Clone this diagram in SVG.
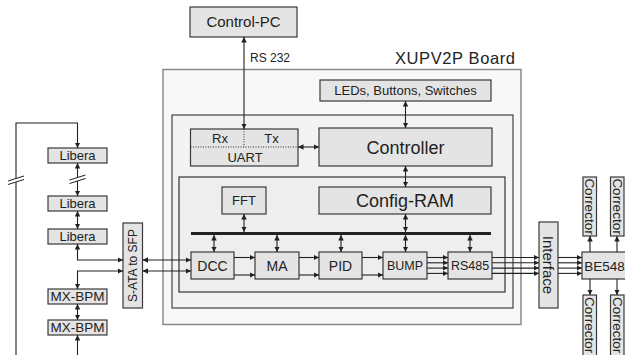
<svg xmlns="http://www.w3.org/2000/svg" width="625" height="355" viewBox="0 0 625 355">
<defs>
<marker id="ah" viewBox="0 0 6 6" refX="6" refY="3" markerWidth="5.5" markerHeight="5.5" markerUnits="userSpaceOnUse" orient="auto-start-reverse">
<path d="M0,0 L6,3 L0,6 z" fill="#222"/>
</marker>
<style>
text{font-family:"Liberation Sans",Arial,sans-serif;fill:#222}
.box{fill:#e4e4e4;stroke:#3a3a3a;stroke-width:1.2}
.c{fill:none;stroke:#222;stroke-width:1.1}
.b{marker-start:url(#ah);marker-end:url(#ah)}
.e{marker-end:url(#ah)}
.m{text-anchor:middle}
</style>
</defs>
<rect width="625" height="355" fill="#fff"/>

<g id="board">
<rect x="163" y="69.5" width="358" height="255" fill="#f8f8f8" stroke="#8a8a8a" stroke-width="1.5"/>
<text x="395" y="64" font-size="16.5" letter-spacing="0.6">XUPV2P Board</text>
</g>
<g id="fpga">
<rect x="172" y="115" width="341" height="193" fill="#f3f3f3" stroke="#444" stroke-width="1.2"/>
</g>
<g id="dsp">
<rect x="179" y="177" width="326" height="115" fill="#eeeeee" stroke="#333" stroke-width="1.2"/>
</g>

<g id="control-pc"><rect class="box" x="190" y="7" width="107" height="30"/><text class="m" x="243.5" y="27.3" font-size="15">Control-PC</text></g>
<g id="leds"><rect class="box" x="320" y="80" width="171" height="21"/><text class="m" x="405.5" y="95.2" font-size="13">LEDs, Buttons, Switches</text></g>
<g id="uart"><rect class="box" x="190.5" y="129" width="107.5" height="37"/>
<line x1="190.5" y1="147" x2="298" y2="147" stroke="#333" stroke-width="1" stroke-dasharray="1,1.5"/>
<line x1="244" y1="129" x2="244" y2="147" stroke="#333" stroke-width="1" stroke-dasharray="1,1.5"/>
<text class="m" x="220" y="142.5" font-size="13">Rx</text><text class="m" x="271.5" y="142.5" font-size="13">Tx</text><text class="m" x="245" y="161.5" font-size="13">UART</text></g>
<g id="controller"><rect class="box" x="319" y="128" width="173" height="38"/><text class="m" x="405.5" y="153.5" font-size="18">Controller</text></g>
<g id="fft"><rect class="box" x="222" y="187" width="44" height="27"/><text class="m" x="244" y="205" font-size="13">FFT</text></g>
<g id="config-ram"><rect class="box" x="319" y="187" width="172" height="27"/><text class="m" x="405" y="207" font-size="18">Config-RAM</text></g>
<g id="dcc"><rect class="box" x="191" y="252" width="43" height="27"/><text class="m" x="212.5" y="270.5" font-size="14">DCC</text></g>
<g id="ma"><rect class="box" x="255" y="252" width="44" height="27"/><text class="m" x="277" y="270.5" font-size="14">MA</text></g>
<g id="pid"><rect class="box" x="319" y="252" width="43" height="27"/><text class="m" x="340.5" y="270.5" font-size="14">PID</text></g>
<g id="bump"><rect class="box" x="383" y="252" width="44" height="27"/><text class="m" x="405" y="270" font-size="12.5">BUMP</text></g>
<g id="rs485"><rect class="box" x="448" y="252" width="44" height="27"/><text class="m" x="470" y="270" font-size="12.5">RS485</text></g>

<g id="libera1"><rect class="box" x="48" y="148" width="59" height="15"/><text class="m" x="77.5" y="160.2" font-size="13">Libera</text></g>
<g id="libera2"><rect class="box" x="48" y="196" width="59" height="15"/><text class="m" x="77.5" y="208.2" font-size="13">Libera</text></g>
<g id="libera3"><rect class="box" x="48" y="229" width="59" height="15"/><text class="m" x="77.5" y="241.2" font-size="13">Libera</text></g>
<g id="mx-bpm1"><rect class="box" x="48" y="289" width="59" height="15"/><text class="m" x="77.5" y="301.2" font-size="13.5">MX-BPM</text></g>
<g id="mx-bpm2"><rect class="box" x="48" y="320" width="59" height="15"/><text class="m" x="77.5" y="332.2" font-size="13.5">MX-BPM</text></g>
<g id="sata-sfp"><rect class="box" x="123" y="223" width="19.5" height="85"/><text class="m" transform="translate(132.75,265.5) rotate(-90)" y="4.2" font-size="12">S-ATA to SFP</text></g>
<g id="interface"><rect class="box" x="539" y="222" width="19" height="86"/><text class="m" transform="translate(548.5,265) rotate(90)" y="5.2" font-size="15">Interface</text></g>
<g id="be548"><rect class="box" x="582" y="252" width="44" height="27"/><text class="m" x="604.5" y="270.5" font-size="13.5">BE548</text></g>
<g id="corrector1"><rect class="box" x="583" y="177" width="13.5" height="59"/><text class="m" transform="translate(589.75,206.5) rotate(90)" y="4.7" font-size="13.5">Corrector</text></g>
<g id="corrector2"><rect class="box" x="610.5" y="177" width="13.5" height="59"/><text class="m" transform="translate(617.25,206.5) rotate(90)" y="4.7" font-size="13.5">Corrector</text></g>
<g id="corrector3"><rect class="box" x="583" y="295" width="13.5" height="65"/><text transform="translate(589.75,297) rotate(90)" y="4.7" font-size="13.5">Corrector</text></g>
<g id="corrector4"><rect class="box" x="610.5" y="295" width="13.5" height="65"/><text transform="translate(617.25,297) rotate(90)" y="4.7" font-size="13.5">Corrector</text></g>

<g id="connectors">
<line class="c b" x1="244" y1="37" x2="244" y2="129"/>
<text x="250" y="62" font-size="12">RS 232</text>
<line class="c b" x1="405.5" y1="101" x2="405.5" y2="128"/>
<line class="c b" x1="298" y1="147" x2="319" y2="147"/>
<line class="c b" x1="405.5" y1="166" x2="405.5" y2="187"/>
<line class="c b" x1="244" y1="214" x2="244" y2="232"/>
<line class="c b" x1="405.5" y1="214" x2="405.5" y2="232"/>
<line x1="191" y1="233.5" x2="491" y2="233.5" stroke="#222" stroke-width="3"/>
<line class="c b" x1="214" y1="235" x2="214" y2="252"/>
<line class="c b" x1="277" y1="235" x2="277" y2="252"/>
<line class="c b" x1="341" y1="235" x2="341" y2="252"/>
<line class="c b" x1="405.5" y1="235" x2="405.5" y2="252"/>
<line class="c b" x1="470" y1="235" x2="470" y2="252"/>
<line class="c b" x1="142.5" y1="260" x2="191" y2="260"/>
<line class="c b" x1="142.5" y1="271" x2="191" y2="271"/>
<line class="c e" x1="234" y1="257.5" x2="255" y2="257.5"/>
<line class="c e" x1="234" y1="275" x2="255" y2="275"/>
<line class="c e" x1="299" y1="257.5" x2="319" y2="257.5"/>
<line class="c e" x1="299" y1="275" x2="319" y2="275"/>
<line class="c e" x1="362" y1="257.5" x2="383" y2="257.5"/>
<line class="c e" x1="362" y1="275" x2="383" y2="275"/>
<line class="c e" x1="427" y1="257.5" x2="448" y2="257.5"/>
<line class="c e" x1="427" y1="262.8" x2="448" y2="262.8"/>
<line class="c e" x1="427" y1="268.1" x2="448" y2="268.1"/>
<line class="c e" x1="427" y1="273.4" x2="448" y2="273.4"/>
<line class="c e" x1="492" y1="257.5" x2="539" y2="257.5"/>
<line class="c e" x1="492" y1="262.8" x2="539" y2="262.8"/>
<line class="c e" x1="492" y1="268.1" x2="539" y2="268.1"/>
<line class="c e" x1="492" y1="273.4" x2="539" y2="273.4"/>
<line class="c e" x1="558" y1="257.5" x2="582" y2="257.5"/>
<line class="c e" x1="558" y1="262.8" x2="582" y2="262.8"/>
<line class="c e" x1="558" y1="268.1" x2="582" y2="268.1"/>
<line class="c e" x1="558" y1="273.4" x2="582" y2="273.4"/>
<line class="c e" x1="590" y1="252" x2="590" y2="236"/>
<line class="c e" x1="617" y1="252" x2="617" y2="236"/>
<line class="c e" x1="590" y1="279" x2="590" y2="295"/>
<line class="c e" x1="617" y1="279" x2="617" y2="295"/>
<path class="c e" d="M16,355 V123 H77.5 V148"/>
<line class="c b" x1="77.5" y1="163" x2="77.5" y2="196"/>
<line class="c b" x1="77.5" y1="211" x2="77.5" y2="229"/>
<path class="c b" d="M77.5,244 V260 H123"/>
<path class="c b" d="M123,271 H77.5 V289"/>
<line class="c b" x1="77.5" y1="304" x2="77.5" y2="320"/>
<line class="c e" x1="77.5" y1="355" x2="77.5" y2="335"/>
<polygon points="8,181 24,176 24,179.5 8,184.5" fill="#fff"/>
<line x1="8" y1="181" x2="24" y2="176" stroke="#222" stroke-width="1"/>
<line x1="8" y1="184.5" x2="24" y2="179.5" stroke="#222" stroke-width="1"/>
<polygon points="69.5,180 85.5,175 85.5,178.5 69.5,183.5" fill="#fff"/>
<line x1="69.5" y1="180" x2="85.5" y2="175" stroke="#222" stroke-width="1"/>
<line x1="69.5" y1="183.5" x2="85.5" y2="178.5" stroke="#222" stroke-width="1"/>
</g>
</svg>
